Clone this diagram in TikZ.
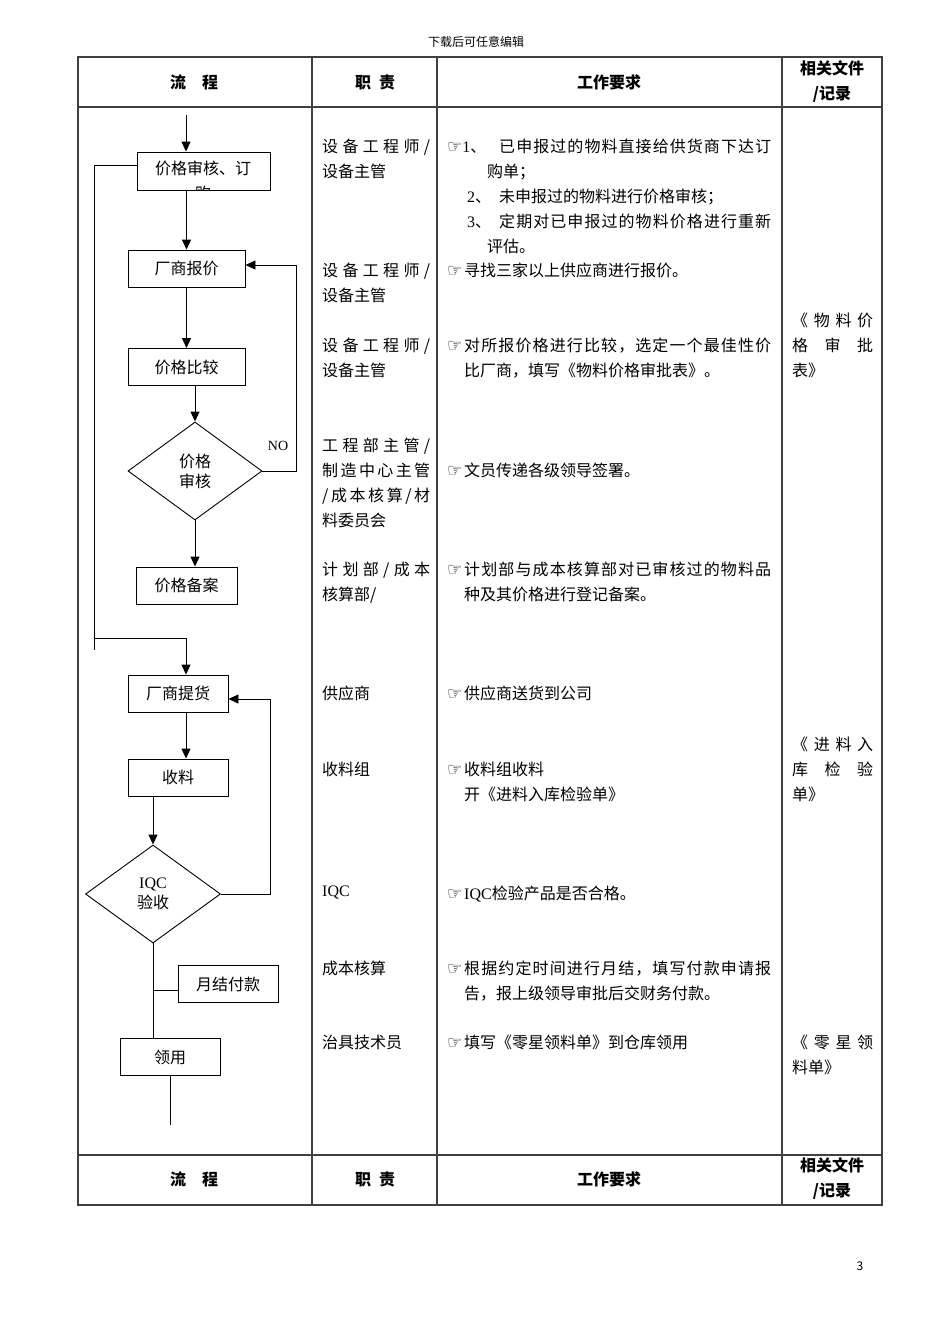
\documentclass[tikz,border=0pt]{standalone}
\usepackage{fontspec}
\setmainfont{Noto Sans CJK SC}
\newfontfamily\symfont{DejaVu Sans}
\newfontfamily\latinfont{Liberation Serif}
\usetikzlibrary{arrows.meta,shapes.geometric,positioning}

\newcommand\hand{{\symfont\fontsize{17}{17}\selectfont ☞}}
\def\spreadloop#1{\ifx#1\relax\else\hfil#1\expandafter\spreadloop\fi}
\def\spreadfirst#1{#1\spreadloop}
\newcommand\spreadto[2]{\makebox[#1][s]{\spreadfirst#2\relax}}

\begin{document}
\begin{tikzpicture}[
  x=1pt,
  y=-1pt,
  font=\fontsize{16}{25}\selectfont,
  box/.style={draw, line width=0.9pt, inner sep=0pt, minimum height=37pt},
  decision/.style={draw, diamond, line width=0.9pt, inner sep=0pt, align=center,
    font=\fontsize{16}{20}\selectfont},
  arr/.style={-{Triangle[length=10pt,width=9pt]}, line width=0.9pt},
  link/.style={line width=0.9pt},
  grid/.style={line width=1.2pt, black!75},
  head/.style={font=\bfseries\fontsize{16}{25}\selectfont, align=center, inner sep=0pt},
  txt/.style={anchor=north west, inner sep=0pt, align=left, yshift=-2pt}
]
  \useasboundingbox (0,0) rectangle (950,1344);

  % table frame
  \draw[grid] (78,57) rectangle (882,1205);
  \draw[grid] (78,107) -- (882,107);
  \draw[grid] (78,1155) -- (882,1155);
  \foreach \cx in {312,437,782}
    \draw[grid] (\cx,57) -- (\cx,1205);

  \node[font=\fontsize{12}{14}\selectfont] (pagetop) at (476,42) {下载后可任意编辑};
  \node[font=\fontsize{12}{14}\selectfont] (pagenum) at (860,1266) {3};

  % header and footer
  \foreach \hy/\nm in {82/top,1179/bot} {
    \node[head] (flow\nm) at (194,\hy) {流　程};
    \node[head] (duty\nm) at (375,\hy) {职\hspace{8pt}责};
    \node[head] (req\nm) at (609,\hy) {工作要求};
    \node[head] (doc\nm) at (832,\hy) {相关文件\\/记录};
  }

  % flow chart
  \node[box, minimum width=133, minimum height=38] (shenhe) at (203.5,171) {};
  \begin{scope}
    \clip (shenhe.north west) rectangle (shenhe.south east);
    \node[align=center, inner sep=0pt] (shenhetxt) at (203,181) {价格审核、订\\购};
  \end{scope}
  \node[box, minimum width=117] (baojia) at (186.5,268.5) {厂商报价};
  \node[box, minimum width=117] (bijiao) at (186.5,367) {价格比较};
  \node[decision, minimum width=134, minimum height=98] (jgsh) at (195,471) {价格\\审核};
  \node[box, minimum width=101] (beian) at (186.5,585.5) {价格备案};
  \node[box, minimum width=100] (tihuo) at (178,693.5) {厂商提货};
  \node[box, minimum width=100] (shouliao) at (178,777.5) {收料};
  \node[decision, minimum width=135, minimum height=98] (iqc) at (153,894) {{\latinfont IQC}\\验收};
  \node[box, minimum width=100] (yuejie) at (228,984) {月结付款};
  \node[box, minimum width=100] (lingyong) at (170,1057) {领用};
  \node[font=\latinfont\fontsize{14}{16}\selectfont] (nolabel) at (278,446) {NO};

  \coordinate (start) at (186,115);
  \coordinate (loopturn) at (94,638);
  \coordinate (loopend) at (94,650);
  \coordinate (nocorner) at (296,265);
  \coordinate (iqccorner) at (270,699);
  \coordinate (branch) at (153,990);
  \coordinate (flowend) at (169,1125);

  \draw[arr] (start) -- (start |- shenhe.north);
  \draw[arr] (baojia.north |- shenhe.south) -- (baojia.north);
  \draw[arr] (baojia.south) -- (bijiao.north);
  \draw[arr] (jgsh.north |- bijiao.south) -- (jgsh.north);
  \draw[arr] (jgsh.south) -- (jgsh.south |- beian.north);
  \draw[arr] (jgsh.east) -| (nocorner) -- (nocorner -| baojia.east);
  \draw[link] ([yshift=6pt]shenhe.west) -| (loopend);
  \draw[arr] (loopturn) -| ([xshift=8pt]tihuo.north);
  \draw[arr] ([xshift=8pt]tihuo.south) -- ([xshift=8pt]shouliao.north);
  \draw[arr] (iqc.north |- shouliao.south) -- (iqc.north);
  \draw[arr] (iqc.east) -| (iqccorner) -- (iqccorner -| tihuo.east);
  \draw[link] (iqc.south) -- (iqc.south |- lingyong.north);
  \draw[link] (branch) -- (branch -| yuejie.west);
  \draw[link] (lingyong.south) -- (lingyong.south |- flowend);

  % duties
  \node[txt] (duty1) at (322,137) {\spreadto{108pt}{设备工程师/}\\设备主管};
  \node[txt] (duty2) at (322,261) {\spreadto{108pt}{设备工程师/}\\设备主管};
  \node[txt] (duty3) at (322,336) {\spreadto{108pt}{设备工程师/}\\设备主管};
  \node[txt] (duty4) at (322,436) {\spreadto{108pt}{工程部主管/}\\\spreadto{108pt}{制造中心主管}\\
    \spreadto{108pt}{/成本核算/材}\\料委员会};
  \node[txt] (duty5) at (322,560) {\spreadto{108pt}{计划部/成本}\\核算部/};
  \node[txt] (duty6) at (322,684) {供应商};
  \node[txt] (duty7) at (322,760) {收料组};
  \node[txt] (duty8) at (322,884) {\latinfont IQC};
  \node[txt] (duty9) at (322,959) {成本核算};
  \node[txt] (duty10) at (322,1033) {治具技术员};

  % requirements
  \node[txt] (req1) at (447,137) {\makebox[52pt][l]{\hand{\latinfont 1}、}\spreadto{272pt}{已申报过的物料直接给供货商下达订}\\
    \hspace*{40pt}购单；\\
    \hspace*{20pt}\makebox[32pt][l]{{\latinfont 2}、}未申报过的物料进行价格审核；\\
    \hspace*{20pt}\makebox[32pt][l]{{\latinfont 3}、}\spreadto{272pt}{定期对已申报过的物料价格进行重新}\\
    \hspace*{40pt}评估。};
  \node[txt] (req2) at (447,261) {\makebox[17pt][l]{\hand}寻找三家以上供应商进行报价。};
  \node[txt] (req3) at (447,336) {\makebox[17pt][l]{\hand}\spreadto{307pt}{对所报价格进行比较，选定一个最佳性价}\\
    \hspace*{17pt}比厂商，填写《物料价格审批表》。};
  \node[txt] (req4) at (447,461) {\makebox[17pt][l]{\hand}文员传递各级领导签署。};
  \node[txt] (req5) at (447,560) {\makebox[17pt][l]{\hand}\spreadto{307pt}{计划部与成本核算部对已审核过的物料品}\\
    \hspace*{17pt}种及其价格进行登记备案。};
  \node[txt] (req6) at (447,684) {\makebox[17pt][l]{\hand}供应商送货到公司};
  \node[txt] (req7) at (447,760) {\makebox[17pt][l]{\hand}收料组收料\\\hspace*{17pt}开《进料入库检验单》};
  \node[txt] (req8) at (447,884) {\makebox[17pt][l]{\hand}{\latinfont IQC}检验产品是否合格。};
  \node[txt] (req9) at (447,959) {\makebox[17pt][l]{\hand}\spreadto{307pt}{根据约定时间进行月结，填写付款申请报}\\
    \hspace*{17pt}告，报上级领导审批后交财务付款。};
  \node[txt] (req10) at (447,1033) {\makebox[17pt][l]{\hand}填写《零星领料单》到仓库领用};

  % documents
  \node[txt] (doc1) at (792,311) {\spreadto{81pt}{《物料价}\\\spreadto{81pt}{格审批}\\表》};
  \node[txt] (doc2) at (792,735) {\spreadto{81pt}{《进料入}\\\spreadto{81pt}{库检验}\\单》};
  \node[txt] (doc3) at (792,1033) {\spreadto{81pt}{《零星领}\\料单》};
\end{tikzpicture}
\end{document}
